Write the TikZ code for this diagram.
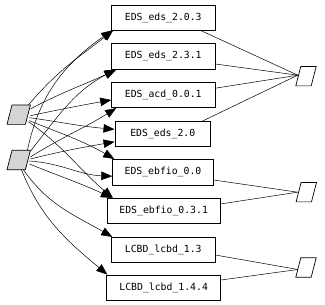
\documentclass[tikz,border=0pt]{standalone}
\usepackage{fontspec}
\setmonofont{DejaVu Sans Mono}
\usetikzlibrary{arrows.meta,calc}
\begin{document}
\begin{tikzpicture}[x=1pt,y=1pt,
  box/.style={draw,line width=0.8pt,rectangle,minimum height=25pt,inner sep=0pt,font=\ttfamily\fontsize{9.8}{10}\selectfont},
  para/.style={rectangle,inner sep=0pt,minimum height=19pt},
  src/.style={para,minimum width=23pt},
  dst/.style={para,minimum width=20pt},
  paraline/.style={draw,line width=0.7pt},
  dep/.style={line width=0.5pt,-{Triangle[length=11pt,width=8.5pt]}},
  lnk/.style={line width=0.5pt}]
\useasboundingbox (0,0) rectangle (325,305);
% boxes
\node[box,minimum width=103.3pt,minimum height=24.3pt] (b1) at (163.3,287.2) {EDS\_eds\_2.0.3};
\node[box,minimum width=103.3pt,minimum height=26pt] (b2) at (163.3,248.7) {EDS\_eds\_2.3.1};
\node[box,minimum width=103.3pt] (b3) at (163.3,209.8) {EDS\_acd\_0.0.1};
\node[box,minimum width=95.7pt,minimum height=24.3pt] (b4) at (162.8,171.2) {EDS\_eds\_2.0};
\node[box,minimum width=100.6pt,minimum height=25.7pt] (b5) at (163,132.8) {EDS\_ebfio\_0.0};
\node[box,minimum width=112.7pt] (b6) at (163.7,94.2) {EDS\_ebfio\_0.3.1};
\node[box,minimum width=103.3pt,minimum height=25.4pt] (b7) at (163.3,55) {LCBD\_lcbd\_1.3};
\node[box,minimum width=114pt] (b8) at (163.7,17.5) {LCBD\_lcbd\_1.4.4};
% left sources
\node[src] (g1) at (18.7,190.3) {};
\node[src] (g2) at (18.7,145) {};
% right targets
\node[dst] (r1) at (306,228.8) {};
\node[dst] (r2) at (306.3,112.8) {};
\node[dst] (r3) at (306,37.5) {};
\foreach \n/\c in {g1/black!17,g2/black!17,r1/white,r2/white,r3/white}{
  \path[paraline,fill=\c] (\n.south west) -- ([xshift=-5pt]\n.south east) -- (\n.north east) -- ([xshift=5pt]\n.north west) -- cycle;
}
\coordinate (e1) at ([shift={(2pt,1pt)}]r1.west);
\coordinate (e2) at ([shift={(1.5pt,0pt)}]r2.west);
\coordinate (e3) at ([shift={(2pt,-2pt)}]r3.west);
% edges from g1
\draw[dep] ([shift={(-2,0)}]g1.north east) to[out=50,in=218] ([xshift=2pt]b1.south west);
\draw[dep] ([shift={(0,-4)}]g1.north east) to[out=28,in=205] ([xshift=5pt]b2.south west);
\draw[dep] ([shift={(0,-1)}]g1.east) to[out=12,in=190] ([yshift=-4.8pt]b3.west);
\draw[dep] ([shift={(-1,-3)}]g1.east) to[out=-8,in=175] ([yshift=4.5pt]b4.west);
\draw[dep] ([shift={(-1,-6)}]g1.east) to[out=-22,in=150] ([xshift=2pt]b5.north west);
\draw[dep] ([shift={(-2,-7)}]g1.east) to[out=-35,in=140] ([xshift=6pt]b6.north west);
% edges from g2
\draw[dep] ([shift={(-3,0)}]g2.north east) to[out=78,in=215] ([xshift=1pt]b1.south west);
\draw[dep] ([shift={(0,-1)}]g2.north east) to[out=52,in=208] ([xshift=4pt]b2.south west);
\draw[dep] ([shift={(0,3)}]g2.east) to[out=32,in=212] ([xshift=5pt]b3.south west);
\draw[dep] ([shift={(0,1)}]g2.east) to[out=14,in=190] ([yshift=-8pt]b4.west);
\draw[dep] ([shift={(-1,-1)}]g2.east) to[out=-4,in=178] ([yshift=-4pt]b5.west);
\draw[dep] ([shift={(-1,-4)}]g2.east) to[out=-22,in=155] ([xshift=5pt]b6.north west);
\draw[dep] ([shift={(-7,0)}]g2.south east) to[out=-55,in=150] ([xshift=1pt]b7.north west);
\draw[dep] ([shift={(-9,0)}]g2.south east) to[out=-68,in=140] ([xshift=1pt]b8.north west);
% links to right
\draw[lnk] ([xshift=-15pt]b1.south east) -- (e1);
\draw[lnk] ([yshift=-7.7pt]b2.east) -- (e1);
\draw[lnk] ([yshift=7pt]b3.east) -- (e1);
\draw[lnk] ([xshift=-9pt]b4.north east) -- (e1);
\draw[lnk] ([yshift=-7.8pt]b5.east) -- (e2);
\draw[lnk] ([yshift=6.8pt]b6.east) -- (e2);
\draw[lnk] ([yshift=-5pt]b7.east) -- (e3);
\draw[lnk] ([yshift=7.5pt]b8.east) -- (e3);
\end{tikzpicture}
\end{document}
